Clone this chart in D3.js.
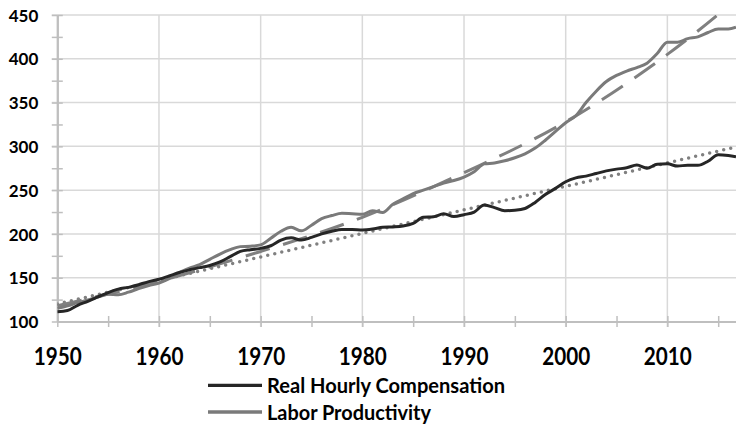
<!DOCTYPE html>
<html>
<head>
<meta charset="utf-8">
<script src="https://cdn.jsdelivr.net/npm/d3@7"></script>
<style>
  html, body { margin: 0; padding: 0; background: #fff; }
  #chart svg { display: block; }
  .c-tick text { font-family: Lato, "Liberation Sans", Arial, sans-serif; font-weight: bold; fill: #000; }
</style>
</head>
<body>
<div id="chart"></div>
<script>
const years = [
  1950, 1951, 1952, 1953, 1954, 1955, 1956, 1957, 1958, 1959,
  1960, 1961, 1962, 1963, 1964, 1965, 1966, 1967, 1968, 1969,
  1970, 1971, 1972, 1973, 1974, 1975, 1976, 1977, 1978, 1979,
  1980, 1981, 1982, 1983, 1984, 1985, 1986, 1987, 1988, 1989,
  1990, 1991, 1992, 1993, 1994, 1995, 1996, 1997, 1998, 1999,
  2000, 2001, 2002, 2003, 2004, 2005, 2006, 2007, 2008, 2009,
  2010, 2011, 2012, 2013, 2014, 2015, 2016, 2016.75
];

const compensation = [
  111.2, 112.5, 118.5, 123, 128, 133, 137, 139, 142, 145.5,
  148.2, 152, 156, 159, 161.5, 164, 168, 174, 180, 182,
  183.5, 186.5, 193, 195.5, 193, 196, 200, 203, 205, 205,
  204.5, 205.5, 207.5, 208, 209, 212, 219, 219.6, 223, 219.8,
  222, 225, 233, 230, 226.5, 227, 229, 236, 245, 252,
  259.6, 264, 266, 269, 272, 274, 275.5, 278.7, 275, 279.5,
  280, 277.5, 278.5, 278.3, 283, 290.5, 289.5, 288
];

const productivity = [
  115, 118, 121.5, 124.5, 128, 131, 130.5, 133.5, 137.5, 141,
  144, 149, 156, 161, 165, 171, 177, 182, 185.5, 186,
  187.5, 195, 203, 207.5, 203.5, 210, 217.5, 221, 223.5, 223,
  222.5, 226.5, 224.5, 234, 240, 246, 250, 254, 258, 261,
  265, 271, 280, 281, 283.5, 287, 291.5, 298, 307, 317,
  327, 335, 350, 363, 374, 381, 386, 390, 395, 406,
  419, 419, 423, 425, 430, 434, 434, 436
];

// trend lines
const productivityTrendYears = [1950, 1960, 1970, 1980, 1990, 2000, 2010, 2017];
const productivityTrend = [118, 146, 180, 219, 270, 328, 405, 470];
const compensationTrendYears = [1950, 2017];
const compensationTrend = [120, 300];

const yTicks = [100, 150, 200, 250, 300, 350, 400, 450];
const yMinorTicks = [125, 175, 225, 275, 325, 375, 425];
const xTicks = [1950, 1960, 1970, 1980, 1990, 2000, 2010];
const xMinorTicks = [1955, 1965, 1975, 1985, 1995, 2005, 2015];
const legendLabels = ['Real Hourly Compensation', 'Labor Productivity'];

class WageChart {
  constructor () {
    this.chartContainer = d3.select('#chart');
    this.chartWidth = 736;
    this.chartHeight = 424;
    this.left = 57.3;
    this.right = 736;
    this.top = 15;
    this.bottom = 321.5;
    this.gridColor = '#d9d9d9';
    this.axisColor = '#bfbfbf';
    this.darkColor = '#262626';
    this.grayColor = '#7a7a7a';
  }

  render () {
    this.createSvg();
    this.initScales();
    this.drawGrid();
    this.drawAxes();
    this.drawLines();
    this.drawLegend();
  }

  createSvg () {
    this.chart = this.chartContainer
      .append('svg')
      .attr('width', this.chartWidth)
      .attr('height', this.chartHeight);

    this.chart.append('clipPath')
      .attr('id', 'plot-clip')
      .append('rect')
      .attr('x', this.left)
      .attr('y', this.top)
      .attr('width', this.right - this.left)
      .attr('height', this.bottom - this.top);
  }

  initScales () {
    this.xScale = d3.scaleLinear().domain([1950, 2016.75]).range([this.left, this.right]);
    this.yScale = d3.scaleLinear().domain([100, 450]).range([this.bottom, this.top]);
  }

  drawGrid () {
    let grid = this.chart.append('g').attr('class', 'c-grid');

    grid.selectAll('line.h')
      .data(yTicks.slice(1))
      .enter()
      .append('line')
      .attr('class', 'h')
      .attr('x1', this.left - 5.5)
      .attr('x2', this.right)
      .attr('y1', (d) => this.yScale(d))
      .attr('y2', (d) => this.yScale(d))
      .attr('stroke', this.gridColor)
      .attr('stroke-width', 1.5);

    grid.selectAll('line.v')
      .data(xTicks.slice(1))
      .enter()
      .append('line')
      .attr('class', 'v')
      .attr('x1', (d) => this.xScale(d))
      .attr('x2', (d) => this.xScale(d))
      .attr('y1', this.top)
      .attr('y2', this.bottom + 5.5)
      .attr('stroke', this.gridColor)
      .attr('stroke-width', 1.5);
  }

  drawAxes () {
    let yAxis = d3.axisLeft(this.yScale)
      .tickValues(yTicks)
      .tickSize(0)
      .tickPadding(19);
    let yMinor = d3.axisLeft(this.yScale)
      .tickValues(yTicks.concat(yMinorTicks))
      .tickSizeInner(-5.5)
      .tickSizeOuter(0)
      .tickFormat('');
    let xAxis = d3.axisBottom(this.xScale)
      .tickValues(xTicks)
      .tickSize(0)
      .tickPadding(26)
      .tickFormat(d3.format('d'));
    let xMinor = d3.axisBottom(this.xScale)
      .tickValues(xTicks.concat(xMinorTicks))
      .tickSizeInner(-5.5)
      .tickSizeOuter(0)
      .tickFormat('');

    let yG = this.chart.append('g')
      .attr('class', 'c-tick')
      .attr('transform', 'translate(' + this.left + ',0)');
    yG.call(yAxis);
    yG.select('.domain').remove();
    yG.selectAll('text').style('font-size', '17px').attr('dy', '0.36em');

    let xG = this.chart.append('g')
      .attr('class', 'c-tick')
      .attr('transform', 'translate(0,' + this.bottom + ')');
    xG.call(xAxis);
    xG.select('.domain').remove();
    xG.selectAll('text')
      .style('font-size', '24px')
      .attr('dy', '0.71em')
      .attr('textLength', 48)
      .attr('lengthAdjust', 'spacingAndGlyphs');

    // cross tick marks: draw once upward and once downward
    [yMinor, xMinor].forEach((axis, i) => {
      let isY = i === 0;
      let tr = isY ? 'translate(' + this.left + ',0)' : 'translate(0,' + this.bottom + ')';
      let g1 = this.chart.append('g').attr('transform', tr).call(axis);
      let g2 = this.chart.append('g').attr('transform', tr).call(axis.tickSizeInner(5.5));
      [g1, g2].forEach((g) => {
        g.selectAll('line').attr('stroke', this.axisColor).attr('stroke-width', 1.5);
        g.select('.domain').attr('stroke', this.axisColor).attr('stroke-width', 2);
      });
    });
  }

  drawLines () {
    let plot = this.chart.append('g').attr('clip-path', 'url(#plot-clip)');

    let line = d3.line()
      .x((d) => this.xScale(d[0]))
      .y((d) => this.yScale(d[1]))
      .curve(d3.curveMonotoneX);

    plot.append('path')
      .datum(d3.zip(productivityTrendYears, productivityTrend))
      .attr('d', line.curve(d3.curveNatural))
      .attr('fill', 'none')
      .attr('stroke', '#808080')
      .attr('stroke-width', 3)
      .attr('stroke-dasharray', '25,14');

    plot.append('path')
      .datum(d3.zip(compensationTrendYears, compensationTrend))
      .attr('d', line.curve(d3.curveLinear))
      .attr('fill', 'none')
      .attr('stroke', '#808080')
      .attr('stroke-width', 3.5)
      .attr('stroke-linecap', 'round')
      .attr('stroke-dasharray', '0,7.2');

    line.curve(d3.curveMonotoneX);

    plot.append('path')
      .datum(d3.zip(years, productivity))
      .attr('d', line)
      .attr('fill', 'none')
      .attr('stroke', this.grayColor)
      .attr('stroke-width', 3)
      .attr('stroke-linejoin', 'round');

    plot.append('path')
      .datum(d3.zip(years, compensation))
      .attr('d', line)
      .attr('fill', 'none')
      .attr('stroke', this.darkColor)
      .attr('stroke-width', 3)
      .attr('stroke-linejoin', 'round');
  }

  drawLegend () {
    let colors = [this.darkColor, this.grayColor];
    let widths = [238, 164];
    let legend = this.chart.append('g')
      .attr('class', 'c-legend')
      .selectAll('g')
      .data(legendLabels)
      .enter()
      .append('g')
      .attr('transform', (d, i) => 'translate(208,' + (385.3 + i * 26.7) + ')');

    legend.append('line')
      .attr('x1', 0)
      .attr('x2', 54)
      .attr('stroke', (d, i) => colors[i])
      .attr('stroke-width', 3.3);

    legend.append('text')
      .attr('x', 59)
      .attr('y', 8)
      .attr('textLength', (d, i) => widths[i])
      .attr('lengthAdjust', 'spacingAndGlyphs')
      .style('font-family', 'Lato, "Liberation Sans", Arial, sans-serif')
      .style('font-weight', 'bold')
      .style('font-size', '21px')
      .attr('fill', '#000')
      .text((d) => d);
  }
}

new WageChart().render();
</script>
</body>
</html>
